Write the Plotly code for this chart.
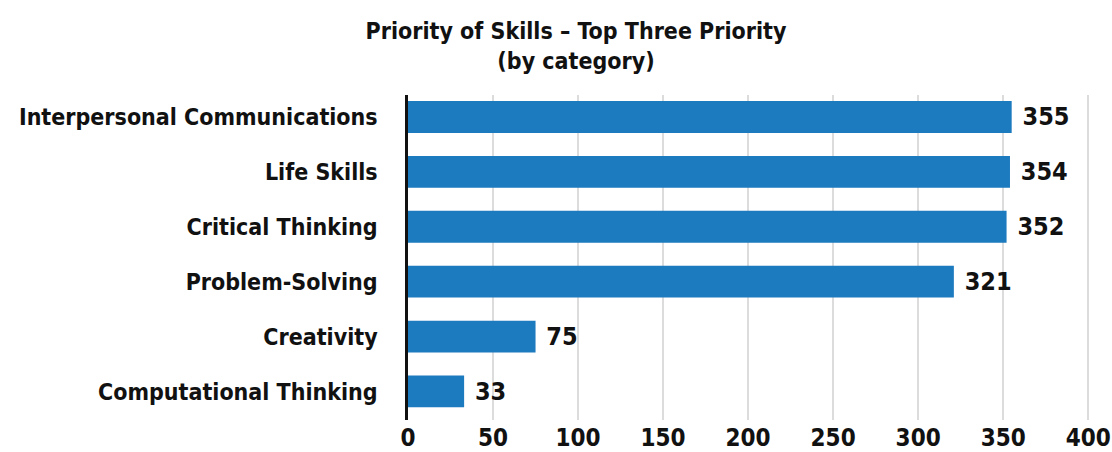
import plotly.graph_objects as go

# Skill categories, top to bottom, and how often each was ranked a top-three priority
skills = [
    "Interpersonal Communications",
    "Life Skills",
    "Critical Thinking",
    "Problem-Solving",
    "Creativity",
    "Computational Thinking",
]
counts = [355, 354, 352, 321, 75, 33]
x_ticks = [0, 50, 100, 150, 200, 250, 300, 350, 400]

FONT = "DejaVu Sans Condensed, Liberation Sans Narrow, sans-serif"
BAR_COLOR = "#1c7abe"
INK = "#111111"

fig = go.Figure(
    go.Bar(
        x=counts,
        y=skills,
        orientation="h",
        marker=dict(color=BAR_COLOR, line=dict(width=0)),
        texttemplate="\u00a0%{x}",
        textposition="outside",
        textfont=dict(family=FONT, size=25, color=INK, weight="bold"),
        cliponaxis=False,
        width=0.58,
    )
)

fig.update_layout(
    width=1112,
    height=452,
    paper_bgcolor="white",
    plot_bgcolor="white",
    margin=dict(l=408, r=17, t=95, b=32, autoexpand=False),
    font=dict(family=FONT, size=23, color=INK, weight="bold"),
    title=dict(
        text="Priority of Skills \u2013 Top Three Priority<br>(by category)",
        x=0.518,
        xref="container",
        xanchor="center",
        y=0.913,
        yref="container",
        yanchor="top",
        font=dict(family=FONT, size=23, color=INK, weight="bold"),
    ),
    showlegend=False,
)

fig.update_xaxes(
    range=[0, 404],
    tickvals=x_ticks,
    ticktext=[str(v) for v in x_ticks],
    showgrid=True,
    gridcolor="#dcdcdc",
    gridwidth=2,
    zeroline=False,
    showline=False,
    ticks="",
    automargin=False,
    ticklabelstandoff=1,
    tickfont=dict(family=FONT, size=24, color=INK, weight="bold"),
)

fig.update_yaxes(
    type="category",
    categoryorder="array",
    categoryarray=skills,
    range=[5.52, -0.40],
    showgrid=False,
    zeroline=False,
    showline=True,
    linecolor=INK,
    linewidth=2.5,
    ticks="",
    automargin=False,
    ticklabelstandoff=23,
    tickfont=dict(family=FONT, size=23, color=INK, weight="bold"),
)

fig.write_html("out.html")
